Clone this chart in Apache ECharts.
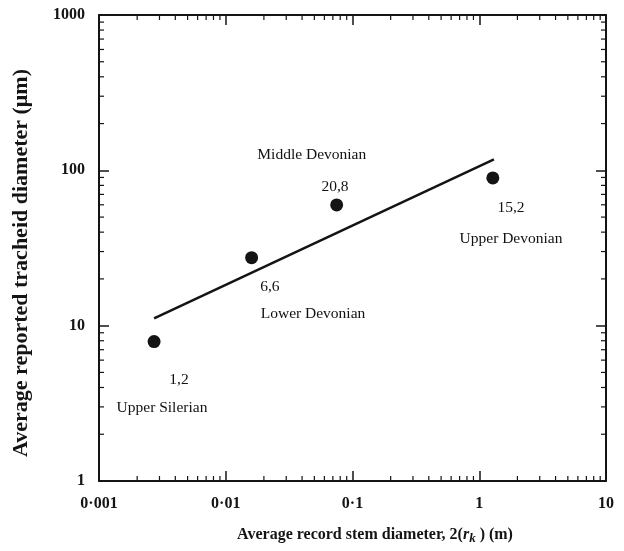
<!DOCTYPE html>
<html>
<head>
<meta charset="utf-8">
<script src="https://cdn.jsdelivr.net/npm/echarts@6/dist/echarts.min.js"></script>
<style>
html,body{margin:0;padding:0;background:#fff;}
#c{width:624px;height:551px;}
</style>
</head>
<body>
<div id="c"></div>
<script>
// ---- data ----
const stemDiameter = [0.00272, 0.0160, 0.0750, 1.28];      // x (m)
const trachDiameter = [7.9, 27.4, 59.9, 89.3];              // y (µm)
const fitX = [0.00272, 1.306];
const fitY = [11.16, 117.8];
const annText = ['Upper Silerian', '1,2', '6,6', 'Lower Devonian', '20,8', 'Middle Devonian', '15,2', 'Upper Devonian'];
const annX = [0.00314, 0.00428, 0.0223, 0.0488, 0.0728, 0.0477, 1.78, 1.78];
const annY = [2.95, 4.47, 17.75, 11.9, 78.2, 125.7, 57.3, 36.2];
const xTickLabels = ['0·001', '0·01', '0·1', '1', '10'];
const yTickLabels = ['1', '10', '100', '1000'];
const X_MIN = 0.001, X_MAX = 10, Y_MIN = 1, Y_MAX = 1000;

// minor tick positions (2..9 in each decade)
const minorTicks = [];
[0.001, 0.01, 0.1, 1].forEach(d => { for (let m = 2; m <= 9; m++) minorTicks.push([d * m, Y_MIN, 0]); });
[1, 10, 100].forEach(d => { for (let m = 2; m <= 9; m++) minorTicks.push([X_MIN, d * m, 1]); });

const FONT = 'Liberation Serif';
const INK = '#141414';

const chart = echarts.init(document.getElementById('c'), null, {renderer: 'canvas'});

function xFmt(v) { return xTickLabels[Math.round(Math.log10(v) + 3)]; }
function yFmt(v) { return yTickLabels[Math.round(Math.log10(v))]; }

const axisCommon = {
  type: 'log', logBase: 10,
  axisLine: {show: true, lineStyle: {color: INK, width: 2}},
  axisTick: {show: true, inside: true, length: 10, lineStyle: {color: INK, width: 1.5}},
  splitLine: {show: false},
  minorTick: {show: false}
};

const option = {
  backgroundColor: '#fff',
  animation: false,
  grid: {left: 99, right: 18, top: 15, bottom: 70, outerBoundsMode: 'none', containLabel: false},
  xAxis: [
    Object.assign({}, axisCommon, {
      position: 'bottom', min: X_MIN, max: X_MAX,
      axisLabel: {formatter: xFmt, fontFamily: FONT, fontWeight: 'bold', fontSize: 16, color: INK, margin: 15},
      name: '{b|Average record stem diameter, 2(}{i|r}{s|k}{b| ) (m)}',
      nameLocation: 'middle', nameGap: 44, nameMoveOverlap: false,
      nameTextStyle: {
        padding: [0, 0, 0, 45],
        rich: {
          b: {fontFamily: FONT, fontWeight: 'bold', fontSize: 16, color: INK, lineHeight: 20},
          i: {fontFamily: FONT, fontWeight: 'bold', fontStyle: 'italic', fontSize: 16, color: INK, lineHeight: 20},
          s: {fontFamily: FONT, fontWeight: 'bold', fontStyle: 'italic', fontSize: 13, color: INK, lineHeight: 12, padding: [8, 0, 0, 0]}
        }
      }
    }),
    Object.assign({}, axisCommon, {
      position: 'top', min: X_MIN, max: X_MAX,
      axisLabel: {show: false}
    })
  ],
  yAxis: [
    Object.assign({}, axisCommon, {
      position: 'left', min: Y_MIN, max: Y_MAX,
      axisLabel: {formatter: yFmt, fontFamily: FONT, fontWeight: 'bold', fontSize: 16, color: INK, margin: 14},
      name: 'Average reported tracheid diameter (μm)',
      nameLocation: 'middle', nameGap: 67, nameRotate: 90, nameMoveOverlap: false,
      nameTextStyle: {fontFamily: FONT, fontWeight: 'bold', fontSize: 22, color: INK, padding: [0, 30, 0, 0]}
    }),
    Object.assign({}, axisCommon, {
      position: 'right', min: Y_MIN, max: Y_MAX,
      axisLabel: {show: false}
    })
  ],
  series: [
    {
      type: 'custom',
      xAxisIndex: 0, yAxisIndex: 0,
      silent: true,
      clip: false,
      data: minorTicks,
      renderItem: function (params, api) {
        const v0 = api.value(0), v1 = api.value(1), kind = api.value(2);
        const L = 5;
        const style = {stroke: INK, lineWidth: 1.2};
        if (kind === 0) {
          const pb = api.coord([v0, Y_MIN]);
          const pt = api.coord([v0, Y_MAX]);
          return {type: 'group', children: [
            {type: 'line', shape: {x1: pb[0], y1: pb[1], x2: pb[0], y2: pb[1] - L}, style: style},
            {type: 'line', shape: {x1: pt[0], y1: pt[1], x2: pt[0], y2: pt[1] + L}, style: style}
          ]};
        } else {
          const pl = api.coord([X_MIN, v1]);
          const pr = api.coord([X_MAX, v1]);
          return {type: 'group', children: [
            {type: 'line', shape: {x1: pl[0], y1: pl[1], x2: pl[0] + L, y2: pl[1]}, style: style},
            {type: 'line', shape: {x1: pr[0], y1: pr[1], x2: pr[0] - L, y2: pr[1]}, style: style}
          ]};
        }
      }
    },
    {
      type: 'line',
      data: fitX.map((x, i) => [x, fitY[i]]),
      showSymbol: false,
      lineStyle: {color: INK, width: 2.5},
      silent: true
    },
    {
      type: 'scatter',
      data: stemDiameter.map((x, i) => [x, trachDiameter[i]]),
      symbol: 'circle',
      symbolSize: 13,
      itemStyle: {color: INK, opacity: 1},
      silent: true
    },
    {
      type: 'scatter',
      data: annText.map((t, i) => ({value: [annX[i], annY[i]], name: t})),
      symbolSize: 0,
      itemStyle: {opacity: 1},
      silent: true,
      label: {
        show: true, position: 'inside',
        formatter: p => p.name,
        fontFamily: FONT, fontSize: 15.5, color: '#111', opacity: 1
      }
    }
  ]
};
chart.setOption(option);
</script>
</body>
</html>
